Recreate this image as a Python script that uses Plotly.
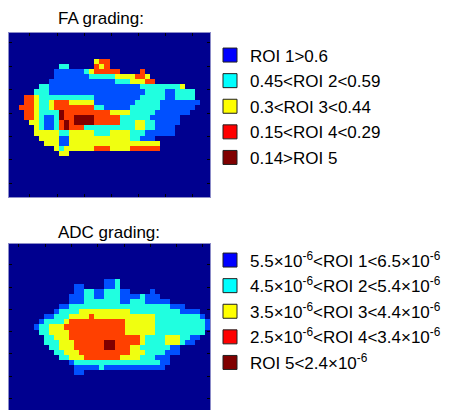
import re
import plotly.graph_objects as go

# The page puts the figure 8 px in from the top-left corner (default body margin),
# so the figure is sized to the remaining window and positions are given in page pixels.
PAGE_OFF = 8
W, H = 451 - PAGE_OFF, 410 - PAGE_OFF
FONT = "Liberation Sans, Arial, sans-serif"


def px(x):
    return (x - PAGE_OFF) / W


def py(y):
    return 1 - (y - PAGE_OFF) / H


FA_TITLE = "FA grading:"
ADC_TITLE = "ADC grading:"

# class codes: '.' background, B = ROI 1, C = ROI 2, Y = ROI 3, R = ROI 4, D = ROI 5
CLASS_CODES = ".BCYRD"
MAP_COLORS = ["#00008F", "#0050FF", "#20FFE0", "#F0FF10", "#FF4000", "#800000"]
LEGEND_COLORS = ["#0000FF", "#00FFFF", "#FFFF00", "#FF0000", "#800000"]

FA_LABELS = [
    "ROI 1&gt;0.6",
    "0.45&lt;ROI 2&lt;0.59",
    "0.3&lt;ROI 3&lt;0.44",
    "0.15&lt;ROI 4&lt;0.29",
    "0.14&gt;ROI 5",
]
ADC_LABELS = [
    "5.5×10<sup>-6</sup>&lt;ROI 1&lt;6.5×10<sup>-6</sup>",
    "4.5×10<sup>-6</sup>&lt;ROI 2&lt;5.4×10<sup>-6</sup>",
    "3.5×10<sup>-6</sup>&lt;ROI 3&lt;4.4×10<sup>-6</sup>",
    "2.5×10<sup>-6</sup>&lt;ROI 4&lt;3.4×10<sup>-6</sup>",
    "ROI 5&lt;2.4×10<sup>-6</sup>",
]

FA_SHAPE = (32, 40)
FA_ROWS = {
    5: "17Y 18-19R",
    6: "10-11C 17R 18Y 19R",
    7: "9-14B 15C 16Y 17-21R 26R",
    8: "9-15B 16-20C 21-24Y 25-26R 27Y",
    9: "8-20B 21-23C 24-26Y 27-28R",
    10: "6-7C 8-25B 26-33C 34Y",
    11: "5-7C 8-26B 27-30C 31-32B 33-36C",
    12: "3-4R 5Y 6-16C 17-25B 26-30C 31-32B 33-36C",
    13: "3-4R 5Y 6-7C 8Y 9-11R 12-16Y 17-24B 25-29C 30-37B",
    14: "2-4R 5Y 6-7C 8Y 9-16R 17-18C 19-23B 24-29C 30-36B",
    15: "3-4R 5Y 6-9C 10D 11-19R 20-23Y 24-28C 29-35B",
    16: "3-4R 5Y 6C 7-8B 9C 10D 11-12R 13-16D 17-21R 22-27C 28-33B",
    17: "4-5Y 6C 7-8B 9C 10R 11D 12R 13-16D 17-21R 22-24C 25-26Y 27-28C 29-33B",
    18: "5Y 6C 7-8B 9C 10R 11D 12-14R 15-24C 25-26Y 27-28C 29-32B",
    19: "5-9Y 10-11C 12-16Y 17-19C 20-23Y 24-26C 27-32B",
    20: "6-9Y 10-11B 12-23Y 24-25C 26-28B",
    21: "7-9Y 10-11B 12-29Y",
    22: "9Y 10C 11-16Y 17-19R 20-23Y 24-29R",
    23: "10-11Y",
}

ADC_SHAPE = (33, 40)
ADC_ROWS = {
    7: "19-20B 21C",
    8: "13-14B 19-20B 21C",
    9: "13-14B 15-16C 17-18B 19-21C 22-23B 28B",
    10: "12-14B 15-16C 17-18B 19-21C 22-25B 26C 27-29B",
    11: "12-14B 15-21C 22-23B 24-26C 27-31B",
    12: "10-11B 12-31C 32-34B",
    13: "9B 10-13C 14-23Y 24-33C 34-37B",
    14: "7-8B 9-11C 12-15Y 16R 17-28Y 29-37C 38B",
    15: "6B 7-10C 11Y 12-22R 23-28Y 29-38C 39B",
    16: "5B 6-7C 8-10Y 11-22R 23-28Y 29-38C 39B",
    17: "6-7C 8-11Y 12-22R 23-28Y 29-38C",
    18: "7-8C 9-11Y 12-25R 26Y 27-30C 31-33Y 34-35C 36-37B",
    19: "7-9C 10-12Y 13-18R 19-20D 21-25R 26Y 27-30C 31-33Y 34C 35-36B",
    20: "8-9C 10-12Y 13-18R 19-20D 21-23R 24-25Y 26-31C 32-33B",
    21: "9-10C 11-13Y 14-23R 24-26Y 27-30C 31-33B",
    22: "10-11C 12-14Y 15-21R 22-25Y 26-28C 29-31B",
    23: "12B 13-29C 30-31B",
    24: "13-17B 18C 19-30B",
    25: "13-14B",
}


def build_grid(shape, rows):
    nr, nc = shape
    grid = [[0] * nc for _ in range(nr)]
    for r, spec in rows.items():
        for a, b, ch in re.findall(r"(\d+)(?:-(\d+))?([BCYRD])", spec):
            a = int(a)
            b = int(b) if b else a
            for c in range(a, b + 1):
                grid[r][c] = CLASS_CODES.index(ch)
    return grid


fa_z = build_grid(FA_SHAPE, FA_ROWS)
adc_z = build_grid(ADC_SHAPE, ADC_ROWS)

n = len(MAP_COLORS)
colorscale = []
for i, col in enumerate(MAP_COLORS):
    colorscale.append([i / n, col])
    colorscale.append([(i + 1) / n, col])

fig = go.Figure()
fig.add_trace(go.Heatmap(z=fa_z, colorscale=colorscale, zmin=-0.5, zmax=n - 0.5,
                         showscale=False, xaxis="x", yaxis="y", hoverinfo="skip"))
fig.add_trace(go.Heatmap(z=adc_z, colorscale=colorscale, zmin=-0.5, zmax=n - 0.5,
                         showscale=False, xaxis="x2", yaxis="y2", hoverinfo="skip"))

for labels, leg, ax, ay in ((FA_LABELS, "legend", "x", "y"), (ADC_LABELS, "legend2", "x2", "y2")):
    for i, (lab, col) in enumerate(zip(labels, LEGEND_COLORS)):
        fig.add_trace(go.Scatter(
            x=[None], y=[None], mode="markers", name=lab, legend=leg,
            legendgroup=f"{leg}_{i}", xaxis=ax, yaxis=ay, showlegend=True,
            marker=dict(symbol="square", size=14, color=col,
                        line=dict(color="#202020", width=1)),
        ))

FRAME = "#8C8CC8"
tick_common = dict(showticklabels=False, ticks="inside", ticklen=3, tickwidth=1,
                   tickcolor="#000000", showgrid=False, zeroline=False,
                   showline=True, linecolor=FRAME, linewidth=1, tickmode="linear")

fa_nr, fa_nc = FA_SHAPE
adc_nr, adc_nc = ADC_SHAPE

legend_common = dict(xanchor="left", yanchor="top", bgcolor="rgba(0,0,0,0)",
                     borderwidth=0, itemsizing="trace", tracegroupgap=0.5,
                     font=dict(family=FONT, size=17, color="black"))

fig.update_layout(
    width=W, height=H,
    margin=dict(l=0, r=0, t=0, b=0, autoexpand=False),
    paper_bgcolor="white", plot_bgcolor="white",
    xaxis=dict(domain=[px(9), px(210)], range=[-0.5, fa_nc - 0.5], anchor="y",
               mirror="ticks", tick0=3.66, dtick=5.4, **tick_common),
    yaxis=dict(domain=[py(197), py(33)], range=[fa_nr - 0.5, -0.5], anchor="x",
               mirror="ticks", tick0=1.45, dtick=4.56, **tick_common),
    xaxis2=dict(domain=[px(9), px(210)], range=[-0.5, adc_nc - 0.5], anchor="y2",
                side="top", mirror=False, tick0=1.48, dtick=5.23, **tick_common),
    yaxis2=dict(domain=[0, py(244)], range=[adc_nr - 0.5, -0.5], anchor="x2",
                mirror="ticks", tick0=3.67, dtick=4.42, **tick_common),
    legend=dict(x=px(210), y=py(37.5), **legend_common),
    legend2=dict(x=px(210), y=py(242.5), **legend_common),
    annotations=[
        dict(text=FA_TITLE, x=px(56), y=py(18.5), xref="paper", yref="paper",
             xanchor="left", yanchor="middle", showarrow=False,
             font=dict(family=FONT, size=17, color="black")),
        dict(text=ADC_TITLE, x=px(56), y=py(233), xref="paper", yref="paper",
             xanchor="left", yanchor="middle", showarrow=False,
             font=dict(family=FONT, size=17, color="black")),
    ],
)

fig.write_html("out.html")
